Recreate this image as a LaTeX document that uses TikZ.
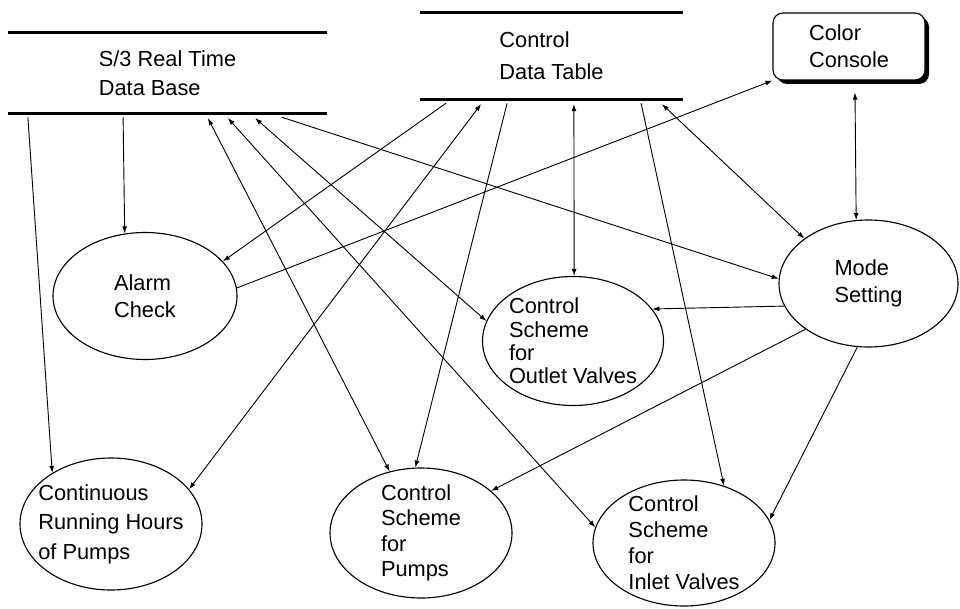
\documentclass[tikz,border=0pt]{standalone}
\usepackage{fontspec}
\setmainfont{Liberation Sans}
\usetikzlibrary{shapes.geometric,arrows.meta,shadows}

\begin{document}
\begin{tikzpicture}[
    >={Latex[length=5pt,width=3.5pt]},
    proc/.style={ellipse, draw, line width=0.8pt, inner sep=-12pt, align=left,
      font=\fontsize{15.5}{19}\selectfont},
    store/.style={inner sep=0pt, align=left, font=\fontsize{15.5}{21}\selectfont},
    storeline/.style={line width=2pt},
    flow/.style={line width=0.65pt}
  ]
  \useasboundingbox (0,0) rectangle (24,15.2);

  % Data stores
  \node[store, minimum width=7.975cm, minimum height=2cm] (db) at (4.1875,13.375)
    {S/3 Real Time\\Data Base};
  \node[store, minimum width=6.575cm, minimum height=2.15cm,
    font=\fontsize{15.5}{23}\selectfont] (table) at (13.7875,13.8) {Control\\Data Table};
  \draw[storeline] (db.north west) -- (db.north east) (db.south west) -- (db.south east);
  \draw[storeline] (table.north west) -- (table.north east)
    (table.south west) -- (table.south east);

  % Console
  \node[draw, fill=white, line width=0.8pt, rounded corners=0.25cm, minimum width=3.8cm,
    minimum height=1.675cm, align=left, font=\fontsize{15.5}{19}\selectfont,
    drop shadow={shadow xshift=0.1cm, shadow yshift=-0.1cm, fill=black, opacity=1}]
    (console) at (21.225,14.0375) {Color\\Console};

  % Processes
  \node[proc, minimum width=4.6cm, minimum height=3.175cm] (alarm) at (3.625,7.8)
    {Alarm\\Check};
  \node[proc, minimum width=4.55cm, minimum height=3.3cm,
    font=\fontsize{15.5}{21}\selectfont] (hours) at (2.775,2.1)
    {Continuous\\Running Hours\\of Pumps};
  \node[proc, minimum width=4.55cm, minimum height=3.25cm,
    font=\fontsize{15.5}{18}\selectfont] (pumps) at (10.525,1.875)
    {Control\\Scheme\\for\\Pumps};
  \node[proc, minimum width=4.525cm, minimum height=3.225cm,
    font=\fontsize{15.5}{16.5}\selectfont] (outlet) at (14.325,6.675)
    {Control\\Scheme\\for\\Outlet Valves};
  \node[proc, minimum width=4.55cm, minimum height=3.15cm,
    font=\fontsize{15.5}{18.5}\selectfont] (inlet) at (17.1,1.625)
    {Control\\Scheme\\for\\Inlet Valves};
  \node[proc, minimum width=4.475cm, minimum height=3.175cm] (mode) at (21.7125,8.1125)
    {Mode\\Setting};

  % Flows from the data base
  \draw[flow, ->] ([xshift=-3.49cm,yshift=-0.1cm]db.south) -- (hours.139);
  \draw[flow, ->] ([xshift=-1.11cm,yshift=-0.1cm]db.south) -- (alarm.108);
  \draw[flow, <->] ([xshift=1.01cm,yshift=-0.12cm]db.south) -- (pumps.117);
  \draw[flow, <->] ([xshift=1.51cm,yshift=-0.12cm]db.south) -- (inlet.170);
  \draw[flow, <->] ([xshift=2.19cm,yshift=-0.12cm]db.south) -- (outlet.167);
  \draw[flow, ->] ([xshift=2.86cm,yshift=-0.1cm]db.south) -- (mode.177);

  % Flows from the control data table
  \draw[flow, ->] ([xshift=-2.64cm,yshift=-0.1cm]table.south) -- (alarm.24);
  \draw[flow, <->] ([xshift=-1.76cm,yshift=-0.12cm]table.south) -- (hours.24);
  \draw[flow, ->] ([xshift=-1.11cm,yshift=-0.1cm]table.south) -- (pumps.95);
  \draw[flow, <->] ([xshift=0.56cm,yshift=-0.12cm]table.south) -- (outlet.89);
  \draw[flow, ->] ([xshift=2.24cm,yshift=-0.1cm]table.south) -- (inlet.55);
  \draw[flow, <->] ([xshift=2.76cm,yshift=-0.12cm]table.south) -- (mode.145);

  % Console and mode setting
  \draw[flow, ->] (alarm.5) -- (console.south west);
  \draw[flow, <->] ([xshift=0.15cm,yshift=-0.3cm]console.south) -- (mode.101);
  \draw[flow, ->] (mode.195) -- (outlet.22);
  \draw[flow, ->] (mode.216) -- (pumps.31);
  \draw[flow, ->] (mode.260) -- (inlet.15);
\end{tikzpicture}
\end{document}
